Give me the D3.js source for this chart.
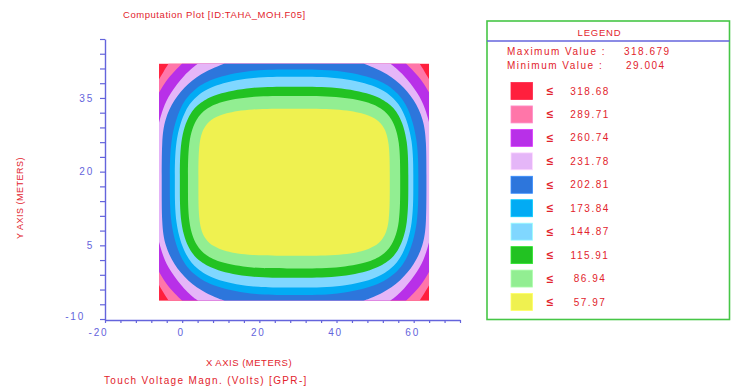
<!DOCTYPE html>
<html>
<head>
<meta charset="utf-8">
<script src="https://cdn.jsdelivr.net/npm/d3@7"></script>
<style>
  html, body { margin: 0; padding: 0; background: #fff; }
  svg { display: block; font-family: "Liberation Sans", Arial, sans-serif; }
</style>
</head>
<body>
<svg id="chart" width="738" height="389"></svg>
<script>
// ---- data -------------------------------------------------------------
const levels = [318.68, 289.71, 260.74, 231.78, 202.81, 173.84, 144.87, 115.91, 86.94, 57.97];
const maxValue = 318.679;
const minValue = 29.004;

const gridX = [-6, 64];      // metres
const gridY = [-6.3, 42];    // metres

const xTickLabels = [-20, 0, 20, 40, 60];
const yTickLabels = [-10, 5, 20, 35];

// Iso-lines (upper-left quarter, metres), running from the top side to the left side.
// The field is symmetric about both centre lines of the grid.
const iso_289_71 = [[-3.5, 42], [-4.8, 40.4], [-6, 38.8]];
const iso_260_74 = [[0.0, 42], [-2.8, 39.8], [-4.5, 38.1], [-6, 36.1]];
const iso_231_78 = [[4.1, 42], [0.6, 39.8], [-3.2, 35.9], [-5.0, 32.9], [-6, 30.0]];
const iso_202_81 = [[11.0, 42], [6.1, 40.5], [1.4, 38.0], [-2.2, 34.6], [-4.5, 30.7], [-5.3, 26.5], [-5.3, 17.85]];
const iso_173_84 = [[29, 40.8], [17.6, 40.8], [7.2, 38.9], [2.9, 36.6], [-0.4, 33.7], [-3.2, 26.5], [-3.2, 17.85]];
const iso_144_87 = [[29, 39.3], [17.6, 39.3], [7.9, 37.6], [3.8, 35.5], [0.8, 32.9], [-1.9, 26.5], [-1.9, 17.85]];
const iso_115_91 = [[29, 37.3], [17.6, 37.3], [8.5, 35.8], [4.7, 34.1], [1.8, 31.9], [-0.6, 26.5], [-0.6, 17.85]];
const iso_86_94  = [[29, 35.4], [17.6, 35.4], [9.6, 34.2], [6.2, 32.8], [3.7, 31.0], [1.5, 26.5], [1.5, 17.85]];
const iso_57_97  = [[29, 32.8], [17.6, 32.8], [10.9, 31.9], [8.1, 30.9], [6.0, 29.6], [4.2, 26.5], [4.2, 17.85]];

// ---- styles -----------------------------------------------------------
const bandColors = ["#ff1f3d", "#ff76a9", "#b830e8", "#e5b6f8", "#2d76dc",
                    "#02abf4", "#80d7ff", "#22c222", "#92ee92", "#eff150"];
const textRed = "#e2232c";
const axisBlue = "#6464dc";

// ---- scales -----------------------------------------------------------
const svg = d3.select("#chart");
const x = d3.scaleLinear().domain([-20, 72]).range([105, 460]);
const y = d3.scaleLinear().domain([-10.2, 47]).range([320, 39]);

// ---- contour bands ----------------------------------------------------
const cx = (gridX[0] + gridX[1]) / 2;
const cy = (gridY[0] + gridY[1]) / 2;
const mirX = p => [2 * cx - p[0], p[1]];
const mirY = p => [p[0], 2 * cy - p[1]];

const quarterLine = d3.line()
  .x(d => x(d[0])).y(d => y(d[1]))
  .curve(d3.curveBasis);

// one closed outline from the four mirrored quarters of an iso-line
function bandOutline(q) {
  const quarters = [
    q,
    q.map(mirY).reverse(),
    q.map(p => mirX(mirY(p))),
    q.map(mirX).reverse()
  ];
  return quarters
    .map((qq, i) => { const s = quarterLine(qq); return i ? "L" + s.slice(1) : s; })
    .join("") + "Z";
}

const isolines = [iso_289_71, iso_260_74, iso_231_78, iso_202_81, iso_173_84,
                  iso_144_87, iso_115_91, iso_86_94, iso_57_97];

svg.append("clipPath").attr("id", "gridClip")
  .append("rect")
  .attr("x", x(gridX[0])).attr("y", y(gridY[1]))
  .attr("width", x(gridX[1]) - x(gridX[0]))
  .attr("height", y(gridY[0]) - y(gridY[1]));

const field = svg.append("g").attr("clip-path", "url(#gridClip)");

// highest band fills the whole grid; each lower band sits inside its iso-line
field.append("rect")
  .attr("x", x(gridX[0])).attr("y", y(gridY[1]))
  .attr("width", x(gridX[1]) - x(gridX[0]))
  .attr("height", y(gridY[0]) - y(gridY[1]))
  .attr("fill", bandColors[0]);

field.selectAll("path.band")
  .data(isolines)
  .join("path")
  .attr("class", "band")
  .attr("d", bandOutline)
  .attr("fill", (q, i) => bandColors[i + 1]);

// ---- axes -------------------------------------------------------------
const xAxis = d3.axisBottom(x)
  .tickValues(d3.range(-20, 73, 4))
  .tickFormat(d => xTickLabels.includes(d) ? d : "")
  .tickSize(3).tickSizeOuter(0).tickPadding(6);

const yAxis = d3.axisLeft(y)
  .tickValues(d3.range(-10, 48, 3))
  .tickFormat(d => yTickLabels.includes(d) ? d : "")
  .tickSize(5).tickSizeOuter(0).tickPadding(6);

const gx = svg.append("g").attr("transform", `translate(0,${y(-10.2)})`).call(xAxis);
const gy = svg.append("g").attr("transform", `translate(${x(-20)},0)`).call(yAxis);

[gx, gy].forEach(g => {
  g.select(".domain").attr("stroke", axisBlue).attr("stroke-width", 1.4);
  g.selectAll(".tick line").attr("stroke", axisBlue).attr("stroke-width", 1.2);
  g.selectAll(".tick text")
    .attr("fill", axisBlue)
    .attr("font-size", 10)
    .attr("letter-spacing", 1.8)
    .attr("font-family", "\"Liberation Sans\", Arial, sans-serif");
});
gx.selectAll(".tick text").attr("dx", d => d < 0 ? -7 : -1.5);
gy.selectAll(".tick").filter(d => d === -10).select("text")
  .attr("dx", -9).attr("dy", "0.05em");

// ---- titles -----------------------------------------------------------
function label(tx, ty, str, opts = {}) {
  return svg.append("text")
    .attr("x", tx).attr("y", ty)
    .attr("fill", opts.fill || textRed)
    .attr("font-size", opts.size || 9.5)
    .attr("letter-spacing", opts.spacing != null ? opts.spacing : 0.6)
    .attr("text-anchor", opts.anchor || "start")
    .attr("dominant-baseline", "central")
    .attr("transform", opts.rotate ? `rotate(${opts.rotate},${tx},${ty})` : null)
    .text(str);
}

label(123, 14.5, "Computation Plot [ID:TAHA_MOH.F05]", { spacing: 0.55 });
label(20, 198, "Y AXIS (METERS)", { anchor: "middle", rotate: -90, size: 9, spacing: 0.5 });
label(249, 362, "X AXIS  (METERS)", { anchor: "middle", size: 9.5, spacing: 0.5 });
label(104, 380, "Touch Voltage Magn. (Volts) [GPR-]", { size: 10, spacing: 1.35 });

// ---- legend -----------------------------------------------------------
const lg = { x0: 487, x1: 729.5, y0: 21, y1: 319.5 };
svg.append("rect")
  .attr("x", lg.x0).attr("y", lg.y0)
  .attr("width", lg.x1 - lg.x0).attr("height", lg.y1 - lg.y0)
  .attr("fill", "none").attr("stroke", "#46c646").attr("stroke-width", 1.6);
svg.append("line")
  .attr("x1", lg.x0).attr("x2", lg.x1).attr("y1", 41).attr("y2", 41)
  .attr("stroke", axisBlue).attr("stroke-width", 1.5);

label(599.5, 32, "LEGEND", { anchor: "middle", size: 9.5, spacing: 0.8 });
label(507, 51, "Maximum Value :", { size: 10, spacing: 1.5 });
label(624, 51, d3.format(".3f")(maxValue), { size: 10, spacing: 1.5 });
label(507, 65.5, "Minimum Value :", { size: 10, spacing: 1.5 });
label(626, 65.5, d3.format(".3f")(minValue), { size: 10, spacing: 1.5 });

const rowY = d3.scaleLinear().domain([0, levels.length - 1]).range([91, 302]);
const rows = svg.selectAll("g.legrow")
  .data(levels)
  .join("g")
  .attr("class", "legrow")
  .attr("transform", (d, i) => `translate(0,${rowY(i)})`);

rows.append("rect")
  .attr("x", 511).attr("y", -8.5).attr("width", 21.5).attr("height", 17)
  .attr("fill", (d, i) => bandColors[i])
  .attr("stroke", (d, i) => d3.color(bandColors[i]).brighter(0.5))
  .attr("stroke-width", 0.8);

rows.append("text")
  .attr("x", 550).attr("y", 0)
  .attr("text-anchor", "middle").attr("dominant-baseline", "central")
  .attr("fill", textRed).attr("font-size", 12).attr("font-weight", "bold")
  .text("≤");

rows.append("text")
  .attr("x", 590).attr("y", 0)
  .attr("text-anchor", "middle").attr("dominant-baseline", "central")
  .attr("fill", textRed).attr("font-size", 10).attr("letter-spacing", 1.5)
  .text(d => d3.format(".2f")(d));
</script>
</body>
</html>
